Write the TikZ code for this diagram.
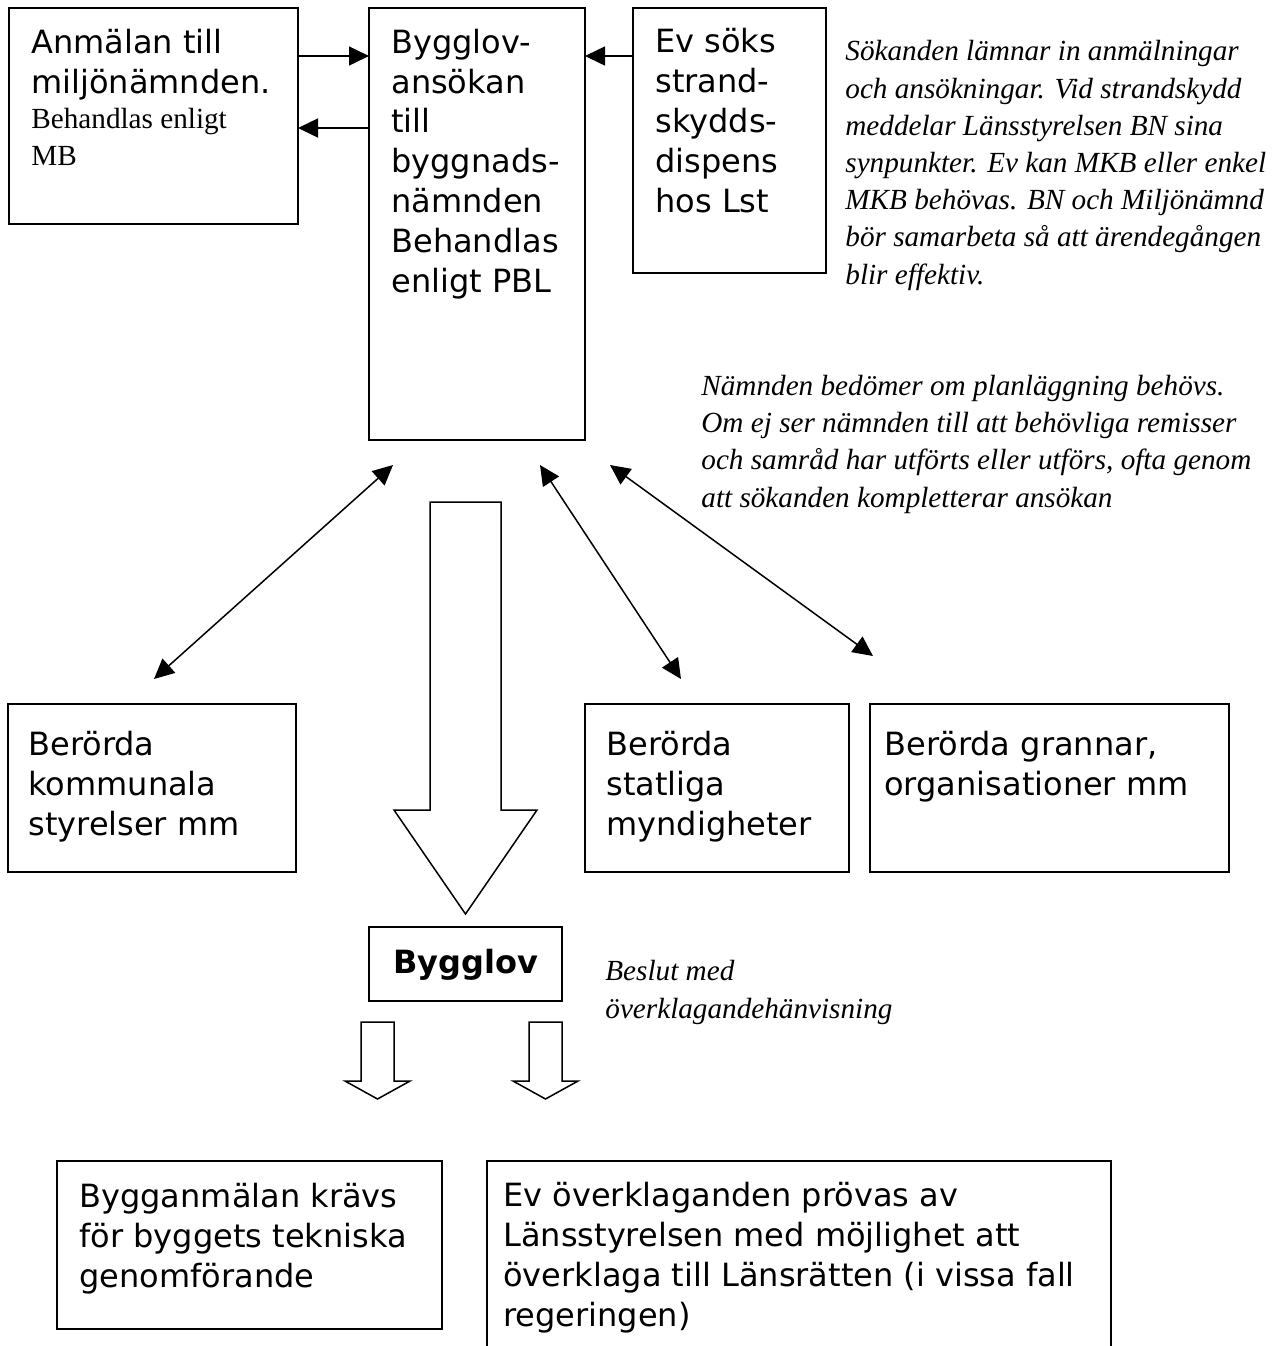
\documentclass[tikz,border=0pt]{standalone}
\usepackage{fontspec}
\setmainfont{Liberation Serif}
\newfontfamily\verdana{DejaVu Sans}
\usetikzlibrary{arrows.meta, fit}
\newcommand{\sanstext}{\verdana\fontsize{16}{19.9}\selectfont}
\newcommand{\notetext}{\itshape\fontsize{14.6}{18.6}\selectfont}
\newcommand{\serftext}{\fontsize{14.6}{18.5}\selectfont}
% hollow block arrow: centre x, top y, head y, tip y, half shaft, half head
\newcommand{\hollowarrow}[6]{
\draw[block] (#1-#5,#2) -- (#1-#5,#3) -- (#1-#6,#3) -- (#1,#4) -- (#1+#6,#3) -- (#1+#5,#3) -- (#1+#5,#2) -- cycle;
}

\begin{document}
\begin{tikzpicture}[
x=0.5pt, y=-0.5pt,
% boxes
box/.style={draw, line width=0.75pt, inner sep=0pt, outer sep=0pt},
% texts (placed at the baseline of their last line)
boxtext/.style={font=\sanstext, align=left, inner sep=0pt, anchor=base west},
serftext/.style={font=\serftext, align=left, inner sep=0pt, anchor=base west},
note/.style={font=\notetext, align=left, inner sep=0pt, anchor=base west},
% connectors
tip/.tip={Triangle[length=10pt, width=9.5pt]},
arr/.style={-tip, line width=0.75pt},
dblarr/.style={tip-tip, line width=0.75pt},
block/.style={draw, line width=0.75pt, fill=white}
]

\useasboundingbox (0,0) rectangle (1283,1346);

% top row
\node[box, fit={(9,8) (298,224)}] (anm) {};
\node[box, fit={(369,8) (585,440)}] (bygg) {};
\node[box, fit={(633,8) (826,273)}] (strand) {};

\node[boxtext] (anmtext) at (31,93) {Anmälan till\\miljönämnden.};
\node[serftext] (anmmb) at (31,165) {Behandlas enligt\\MB};
\node[boxtext] (byggtext) at (391,292) {Bygglov-\\ansökan\\till\\byggnads-\\nämnden\\Behandlas\\enligt PBL};
\node[boxtext] (strandtext) at (655,212) {Ev söks\\strand-\\skydds-\\dispens\\hos Lst};

\draw[arr] (anm.east |- 0,56) -- (bygg.west |- 0,56);
\draw[arr] (bygg.west |- 0,128) -- (anm.east |- 0,128);
\draw[arr] (strand.west |- 0,56) -- (bygg.east |- 0,56);

\node[note] (note1) at (845,284) {Sökanden lämnar in anmälningar\\och ansökningar. Vid strandskydd\\meddelar Länsstyrelsen BN sina\\synpunkter. Ev kan MKB eller enkel\\MKB behövas. BN och Miljönämnd\\bör samarbeta så att ärendegången\\blir effektiv.};
\node[note] (note2) at (701,507) {Nämnden bedömer om planläggning behövs.\\Om ej ser nämnden till att behövliga remisser\\och samråd har utförts eller utförs, ofta genom\\att sökanden kompletterar ansökan};

% remiss row
\node[box, fit={(8,704) (296,872)}] (kommun) {};
\node[box, fit={(585,704) (849,872)}] (stat) {};
\node[box, fit={(870,704) (1229,872)}] (grannar) {};

\node[boxtext] (kommuntext) at (28,835) {Berörda\\kommunala\\styrelser mm};
\node[boxtext] (stattext) at (606,835) {Berörda\\statliga\\myndigheter};
\node[boxtext] (grannartext) at (884,795) {Berörda grannar,\\organisationer mm};

% remiss connectors
\coordinate (ka) at (393,465);
\coordinate (kb) at (154,679);
\coordinate (sa) at (540,465);
\coordinate (sb) at (681,679);
\coordinate (ga) at (610,465);
\coordinate (gb) at (873,656);
\draw[dblarr] (ka) -- (kb);
\draw[dblarr] (sa) -- (sb);
\draw[dblarr] (ga) -- (gb);

% decision
\hollowarrow{465.5}{502}{810}{914}{35.5}{71.5}
\node[box, fit={(369,927) (562,1001)}] (lov) {};
\node[font=\sanstext\bfseries, inner sep=0pt, anchor=base] (lovtext) at (lov.center |- 0,973) {Bygglov};
\node[note] (note3) at (605,1018) {Beslut med\\överklagandehänvisning};

\hollowarrow{377.5}{1022}{1081}{1099}{16.5}{32.5}
\hollowarrow{545.5}{1022}{1081}{1099}{16.5}{32.5}

% bottom row
\node[box, fit={(57,1161) (442,1329)}] (bygganm) {};
\node[box, fit={(487,1161) (1111,1400)}] (overkl) {};

\node[boxtext] (bygganmtext) at (79,1287) {Bygganmälan krävs\\för byggets tekniska\\genomförande};
\node[boxtext] (overkltext) at (503,1326) {Ev överklaganden prövas av\\Länsstyrelsen med möjlighet att\\överklaga till Länsrätten (i vissa fall\\regeringen)};

\end{tikzpicture}
\end{document}
